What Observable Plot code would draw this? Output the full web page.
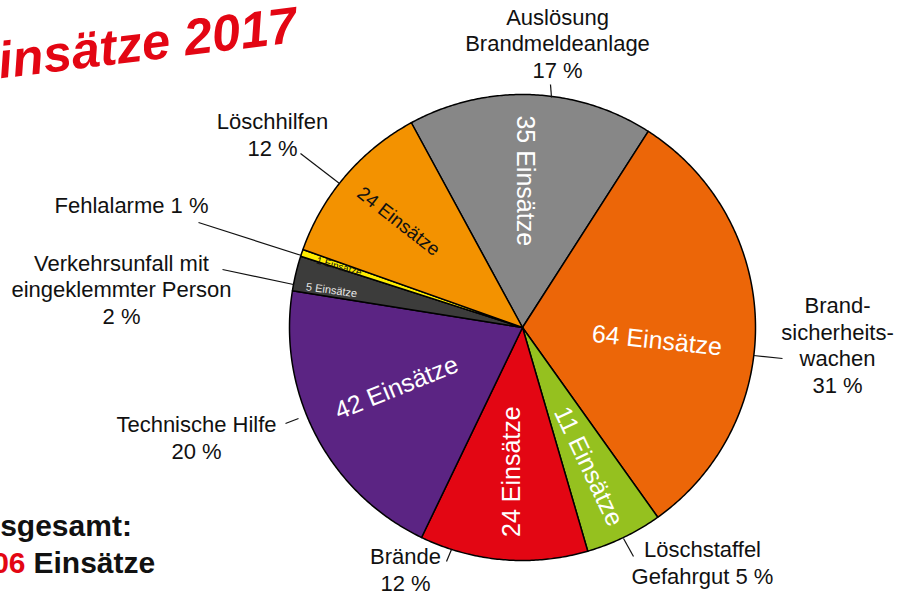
<!DOCTYPE html>
<html><head><meta charset="utf-8">
<script src="https://cdn.jsdelivr.net/npm/d3@7"></script>
<script src="https://cdn.jsdelivr.net/npm/@observablehq/plot@0.6"></script>
<style>
html,body{margin:0;padding:0;background:#fff;overflow:hidden;}
#chart svg{display:block;}
</style></head><body><div id="chart"></div>
<script>
// ---- data ----
const categories = ["Auslösung Brandmeldeanlage","Brandsicherheitswachen","Löschstaffel Gefahrgut","Brände","Technische Hilfe","Verkehrsunfall mit eingeklemmter Person","Fehlalarme","Löschhilfen"];
const counts = [35, 64, 11, 24, 42, 5, 1, 24];
const percentLabels = ["17 %","31 %","5 %","12 %","20 %","2 %","1 %","12 %"];
const outerNames = ["Auslösung\nBrandmeldeanlage","Brand-\nsicherheits-\nwachen","Löschstaffel\nGefahrgut","Brände","Technische Hilfe","Verkehrsunfall mit\neingeklemmter Person","Fehlalarme","Löschhilfen"];
const percentJoin = ["\n","\n"," ","\n","\n","\n"," ","\n"];
const colors = ["#878787","#ec6608","#95c11f","#e30613","#5b2483","#3c3c3b","#ffed00","#f39200"];
const unitLabel = "Einsätze";
const titleText = "Einsätze 2017";
const totalLabel = "Insgesamt:";
const totalValue = "206";

// ---- layout (positions / styles) ----
const pie = {cx: 522, cy: 327, r: 233, startDeg: -28.5};
const inner = [
  {f:0.63, da:-1,   rot:90,   size:25, fill:"#ffffff"},
  {f:0.58, da:7,    rot:6,    size:25, fill:"#ffffff"},
  {f:0.66, da:0.5,  rot:64.5, size:25, fill:"#ffffff"},
  {f:0.62, da:-0.7, rot:-90,  size:25, fill:"#ffffff"},
  {f:0.60, da:2,    rot:-22,  size:25, fill:"#ffffff"},
  {f:0.835,da:-2.4, rot:8,    size:11, fill:"#e8e8e8"},
  {f:0.83, da:-0.3, rot:16,   size:10, fill:"#111111"},
  {f:0.70, da:0,    rot:38,   size:19, fill:"#111111"}
];
const outer = [
  {x:557, y:77,  line:[550,84,551,97]},
  {x:837, y:392, line:[782,358,753,355]},
  {x:702, y:583, line:[633,556,623,538]},
  {x:405, y:590, line:[446,561,451,549]},
  {x:196, y:458, line:[285,423,298,418]},
  {x:121, y:323, line:[222,269,293,284]},
  {x:131, y:212, line:[198,222,301,255]},
  {x:272, y:155, line:[300,153,339,183]}
];

// ---- geometry from data ----
const a0 = pie.startDeg * Math.PI / 180;
const arcs = d3.pie().sort(null).value(d => d).startAngle(a0).endAngle(a0 + 2*Math.PI)(counts);
const pt = (a, f = 1) => ({x: pie.cx + pie.r*f*Math.sin(a), y: pie.cy - pie.r*f*Math.cos(a)});
const slices = arcs.map((arc, i) => {
  const n = Math.max(2, Math.ceil((arc.endAngle - arc.startAngle) / (Math.PI/360)));
  const pts = [pt(0, 0)];
  for (let k = 0; k <= n; k++) pts.push(pt(arc.startAngle + (arc.endAngle - arc.startAngle) * k / n));
  pts.push(pt(0, 0));
  return {name: categories[i], color: colors[i], pts};
});
const innerData = arcs.map((arc, i) => {
  const m = (arc.startAngle + arc.endAngle)/2 + inner[i].da*Math.PI/180;
  return {...pt(m, inner[i].f), text: counts[i] + " " + unitLabel, ...inner[i]};
});
const outerData = outer.map((o, i) => ({
  x: o.x, y: o.y, text: outerNames[i] + percentJoin[i] + percentLabels[i],
  x1: o.line[0], y1: o.line[1], x2: o.line[2], y2: o.line[3]
}));

const font = "'Liberation Sans', Arial, Helvetica, sans-serif";
const chart = Plot.plot({
  width: 906, height: 596, margin: 0,
  style: {fontFamily: font, background: "#fff", overflow: "visible"},
  x: {domain: [0, 906], range: [0, 906], axis: null},
  y: {domain: [0, 596], range: [0, 596], axis: null},
  marks: [
    Plot.dot([pie], {x: "cx", y: "cy", r: pie.r, fill: "#fff", stroke: "none", ariaLabel: "shadow"}),
    ...slices.map(s => Plot.line(s.pts, {x: "x", y: "y", fill: s.color, stroke: "#000", strokeWidth: 1.5, strokeLinejoin: "round", title: () => s.name})),
    ...innerData.map(d => Plot.text([d], {x: "x", y: "y", text: "text", rotate: d.rot, fontSize: d.size, fill: d.fill, textAnchor: "middle", lineAnchor: "middle"})),
    Plot.link(outerData, {x1: "x1", y1: "y1", x2: "x2", y2: "y2", stroke: "#111", strokeWidth: 1.2}),
    Plot.text(outerData, {x: "x", y: "y", text: "text", fontSize: 22, lineHeight: 1.2, lineAnchor: "bottom", textAnchor: "middle", fill: "#111"}),
    Plot.text([titleText], {text: d => d, frameAnchor: "top-left", dx: -34, dy: 82, rotate: -7, textAnchor: "start", lineAnchor: "bottom", fontSize: 51, fontWeight: "bold", fontStyle: "italic", fill: "#e30613", ariaLabel: "title"}),
    Plot.text([totalLabel], {text: d => d, frameAnchor: "top-left", dx: -27, dy: 535, textAnchor: "start", lineAnchor: "bottom", fontSize: 30, fontWeight: "bold", fill: "#111"}),
    Plot.text([totalValue], {text: d => d, frameAnchor: "top-left", dx: -25, dy: 572, textAnchor: "start", lineAnchor: "bottom", fontSize: 30, fontWeight: "bold", fill: "#e30613"}),
    Plot.text([unitLabel], {text: d => d, frameAnchor: "top-left", dx: 33, dy: 572, textAnchor: "start", lineAnchor: "bottom", fontSize: 30, fontWeight: "bold", fill: "#111"})
  ]
});
document.getElementById("chart").appendChild(chart);
d3.select(chart).select('g[aria-label="shadow"]').style("filter", "drop-shadow(3px 4px 5px rgba(0,0,0,0.45))");
d3.select(chart).select('g[aria-label="title"]').style("filter", "drop-shadow(3px 3px 2px rgba(0,0,0,0.85))");
</script></body></html>
